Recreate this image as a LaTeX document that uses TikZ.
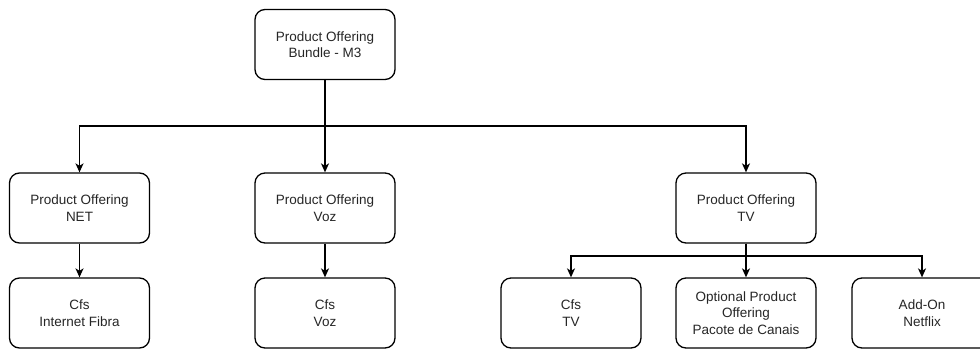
\documentclass[tikz,border=0pt]{standalone}
\usepackage{fontspec}
\setmainfont{Liberation Sans}
\usetikzlibrary{arrows.meta}
\begin{document}
\begin{tikzpicture}[x=1pt,y=-1pt,
  box/.style={draw=black, line width=1.3pt, rounded corners=10pt, fill=white,
    minimum width=140pt, minimum height=70pt, align=center, inner sep=0pt,
    font=\fontsize{13.5}{16.5}\selectfont, text=black!85},
  link/.style={draw=black, line width=1.3pt,
    -{Stealth[length=9pt,width=8pt,inset=2.5pt]}}]
\useasboundingbox[fill=white] (0,0) rectangle (980,349);
\begin{scope}
\clip (0,0) rectangle (980,349);
% top level
\node[box] (bundle) at (325,44.5) {Product Offering\\Bundle - M3};
% second level
\node[box] (net) at (79.5,208) {Product Offering\\NET};
\node[box] (voz) at (325,208) {Product Offering\\Voz};
\node[box] (tv)  at (746,208) {Product Offering\\TV};
% third level
\node[box] (cfsnet) at (79.5,313) {Cfs\\Internet Fibra};
\node[box] (cfsvoz) at (325,313) {Cfs\\Voz};
\node[box] (cfstv)  at (571,313) {Cfs\\TV};
\node[box] (opt)    at (746,313) {Optional Product\\Offering\\Pacote de Canais};
\node[box] (addon)  at (922,313) {Add-On\\Netflix};
% connectors
\draw[link] (bundle.south) |- (net.north |- 0,126) -- (net.north);
\draw[link] (bundle.south) -- (voz.north);
\draw[link] (bundle.south) |- (tv.north |- 0,126) -- (tv.north);
\draw[link] (net.south) -- (cfsnet.north);
\draw[link] (voz.south) -- (cfsvoz.north);
\draw[link] (tv.south) |- (cfstv.north |- 0,256) -- (cfstv.north);
\draw[link] (tv.south) -- (opt.north);
\draw[link] (tv.south) |- (addon.north |- 0,256) -- (addon.north);
\end{scope}
\end{tikzpicture}
\end{document}
